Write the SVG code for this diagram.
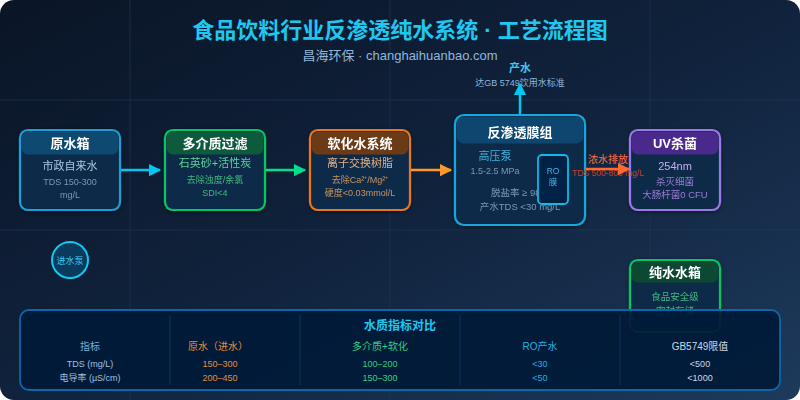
<svg xmlns="http://www.w3.org/2000/svg" width="800" height="400" viewBox="0 0 800 400">
<defs>
<linearGradient id="bg" x1="0" y1="0" x2="1" y2="1">
<stop offset="0" stop-color="#0a1526"/>
<stop offset="0.5" stop-color="#10223c"/>
<stop offset="1" stop-color="#1d3a5c"/>
</linearGradient>
<filter id="glow" x="-20%" y="-20%" width="140%" height="140%">
<feGaussianBlur in="SourceAlpha" stdDeviation="2"/>
<feOffset dy="1"/>
<feComponentTransfer><feFuncA type="linear" slope="0.5"/></feComponentTransfer>
<feMerge><feMergeNode/><feMergeNode in="SourceGraphic"/></feMerge>
</filter>
<marker id="aCyan" viewBox="0 0 10 10" refX="9" refY="5" markerWidth="5" markerHeight="5.5" orient="auto" markerUnits="strokeWidth"><path d="M0,0 L10,5 L0,10 z" fill="#00c8f0"/></marker>
<marker id="aGreen" viewBox="0 0 10 10" refX="9" refY="5" markerWidth="5" markerHeight="5.5" orient="auto" markerUnits="strokeWidth"><path d="M0,0 L10,5 L0,10 z" fill="#00e08a"/></marker>
<marker id="aOrange" viewBox="0 0 10 10" refX="9" refY="5" markerWidth="5" markerHeight="5.5" orient="auto" markerUnits="strokeWidth"><path d="M0,0 L10,5 L0,10 z" fill="#ff9a28"/></marker>
<marker id="aRed" viewBox="0 0 10 10" refX="9" refY="5" markerWidth="5" markerHeight="5.5" orient="auto" markerUnits="strokeWidth"><path d="M0,0 L10,5 L0,10 z" fill="#ff6a30"/></marker>
</defs>
<style>
text{font-family:"Liberation Sans","Noto Sans CJK SC",sans-serif;text-anchor:middle}
.box{fill:#102a48;stroke-width:2.2}
.ht{fill:#ffffff;font-weight:bold;font-size:13px}
.grid{stroke:#1c3a5a;stroke-width:1;opacity:0.6}
.th{font-size:10px}
.td{font-size:9px}
</style>
<rect x="0" y="0" width="800" height="400" rx="14" fill="url(#bg)"/>
<g class="grid">
<line x1="0" y1="100" x2="800" y2="100"/>
<line x1="0" y1="230" x2="800" y2="230"/>
<line x1="130" y1="0" x2="130" y2="400"/>
<line x1="390" y1="0" x2="390" y2="400"/>
<line x1="650" y1="0" x2="650" y2="400"/>
</g>
<text x="400" y="38" fill="#1ec8f0" font-size="22" font-weight="bold">食品饮料行业反渗透纯水系统 · 工艺流程图</text>
<text x="400" y="60" fill="#8fb8dc" font-size="13">昌海环保 · changhaihuanbao.com</text>

<g id="product">
<text x="520" y="72" fill="#3ec8f0" font-size="11" font-weight="bold">产水</text>
<text x="520" y="86" fill="#8fb8dc" font-size="9">达GB 5749饮用水标准</text>
</g>

<g id="raw-tank" filter="url(#glow)">
<rect class="box" x="20" y="130" width="100" height="80" rx="8" stroke="#1a9fd8"/>
<rect x="21.5" y="131.5" width="97" height="23" rx="6.5" fill="#0a4a70"/>
<text class="ht" x="70" y="148">原水箱</text>
<text x="70" y="170" fill="#a8c8e4" font-size="11">市政自来水</text>
<text x="70" y="185" fill="#7898b8" font-size="9">TDS 150-300</text>
<text x="70" y="198" fill="#7898b8" font-size="9">mg/L</text>
</g>

<g id="multimedia" filter="url(#glow)">
<rect class="box" x="165" y="130" width="100" height="80" rx="8" stroke="#00c866"/>
<rect x="166.5" y="131.5" width="97" height="23" rx="6.5" fill="#0a5a3c"/>
<text class="ht" x="215" y="148">多介质过滤</text>
<text x="215" y="167" fill="#58d49a" font-size="11">石英砂+活性炭</text>
<text x="215" y="183" fill="#40b880" font-size="9">去除浊度/余氯</text>
<text x="215" y="196" fill="#40b880" font-size="9">SDI&lt;4</text>
</g>

<g id="softener" filter="url(#glow)">
<rect class="box" x="310" y="130" width="100" height="80" rx="8" stroke="#e8781c"/>
<rect x="311.5" y="131.5" width="97" height="23" rx="6.5" fill="#6a3a12"/>
<text class="ht" x="360" y="148">软化水系统</text>
<text x="360" y="167" fill="#e0b088" font-size="11">离子交换树脂</text>
<text x="360" y="183" fill="#c8945c" font-size="9">去除Ca²⁺/Mg²⁺</text>
<text x="360" y="196" fill="#c8945c" font-size="9">硬度&lt;0.03mmol/L</text>
</g>

<g id="ro" filter="url(#glow)">
<rect class="box" x="455" y="115" width="130" height="110" rx="9" stroke="#12a8dc"/>
<rect x="456.5" y="116.5" width="127" height="27" rx="7.5" fill="#0a4670"/>
<text class="ht" x="520" y="137" font-size="14">反渗透膜组</text>
<text x="495" y="160" fill="#3eb4e0" font-size="11">高压泵</text>
<text x="495" y="174" fill="#7898b8" font-size="9">1.5-2.5 MPa</text>
<text x="520" y="196" fill="#7898b8" font-size="9.5">脱盐率 ≥ 98%</text>
<rect x="538" y="155" width="30" height="49" rx="4" fill="#062246" stroke="#12b8e6" stroke-width="1.8"/>
<text x="553" y="174" fill="#3eb4e0" font-size="8.5">RO</text>
<text x="553" y="185" fill="#3eb4e0" font-size="8.5">膜</text>
<text x="520" y="210" fill="#7898b8" font-size="9.5">产水TDS &lt;30 mg/L</text>
</g>

<g id="uv" filter="url(#glow)">
<rect class="box" x="630" y="130" width="90" height="80" rx="8" stroke="#9a7ae8"/>
<rect x="631.5" y="131.5" width="87" height="23" rx="6.5" fill="#4a2a8c"/>
<text class="ht" x="675" y="148">UV杀菌</text>
<text x="675" y="170" fill="#c4aef4" font-size="11">254nm</text>
<text x="675" y="185" fill="#9a7ad4" font-size="9.5">杀灭细菌</text>
<text x="675" y="198" fill="#9a7ad4" font-size="9.5">大肠杆菌0 CFU</text>
</g>

<g id="pure-tank" filter="url(#glow)">
<rect class="box" x="630" y="260" width="90" height="72" rx="8" stroke="#00c866"/>
<rect x="631.5" y="261.5" width="87" height="21" rx="6.5" fill="#0a4a30"/>
<text class="ht" x="675" y="277" font-size="12">纯水水箱</text>
<text x="675" y="300" fill="#40b880" font-size="9.5">食品安全级</text>
<text x="675" y="314" fill="#40b880" font-size="9.5">密封存储</text>
</g>

<g id="pump">
<circle cx="70" cy="260" r="18" fill="#0a3a5c" stroke="#10c8f0" stroke-width="2"/>
<text x="70" y="264" fill="#3ec8f0" font-size="9">进水泵</text>
</g>

<g id="concentrate">
<text x="608" y="163" fill="#ff7040" font-size="10">浓水排放</text>
<text x="608" y="176" fill="#c8401c" font-size="8.5">TDS 500-800 mg/L</text>
</g>

<g id="connectors">
<line x1="121" y1="170" x2="160" y2="170" stroke="#00c8f0" stroke-width="2.5" marker-end="url(#aCyan)"/>
<line x1="266" y1="170" x2="305" y2="170" stroke="#00e08a" stroke-width="2.5" marker-end="url(#aGreen)"/>
<line x1="411" y1="170" x2="451" y2="170" stroke="#ff9a28" stroke-width="2.5" marker-end="url(#aOrange)"/>
<line x1="586" y1="169" x2="629" y2="169" stroke="#ff6a30" stroke-width="2.5" marker-end="url(#aRed)"/>
<line x1="520" y1="114" x2="520" y2="84" stroke="#00c8f0" stroke-width="2.5" marker-end="url(#aCyan)"/>
</g>

<g id="table">
<rect x="20" y="310" width="760" height="80" rx="9" fill="#001a38" fill-opacity="0.93" stroke="#0a68a8" stroke-width="1.8"/>
<g stroke="#0c3054" stroke-width="1.2">
<line x1="170" y1="315" x2="170" y2="385"/>
<line x1="300" y1="315" x2="300" y2="385"/>
<line x1="460" y1="315" x2="460" y2="385"/>
<line x1="620" y1="315" x2="620" y2="385"/>
</g>
<text x="400" y="330" fill="#1ec8f0" font-size="12" font-weight="bold">水质指标对比</text>
<text class="th" x="90" y="350" fill="#7ab0d8">指标</text>
<text class="th" x="218" y="350" fill="#e0903c">原水（进水）</text>
<text class="th" x="380" y="350" fill="#30d080">多介质+软化</text>
<text class="th" x="540" y="350" fill="#20b0e0">RO产水</text>
<text class="th" x="700" y="350" fill="#d0d8e4">GB5749限值</text>
<text class="td" x="90" y="367" fill="#a0c0e0">TDS (mg/L)</text>
<text class="td" x="220" y="367" fill="#e0903c">150–300</text>
<text class="td" x="380" y="367" fill="#30d080">100–200</text>
<text class="td" x="540" y="367" fill="#20b0e0">&lt;30</text>
<text class="td" x="700" y="367" fill="#d0d8e4">&lt;500</text>
<text class="td" x="90" y="381" fill="#a0c0e0">电导率 (μS/cm)</text>
<text class="td" x="220" y="381" fill="#e0903c">200–450</text>
<text class="td" x="380" y="381" fill="#30d080">150–300</text>
<text class="td" x="540" y="381" fill="#20b0e0">&lt;50</text>
<text class="td" x="700" y="381" fill="#d0d8e4">&lt;1000</text>
</g>
</svg>
